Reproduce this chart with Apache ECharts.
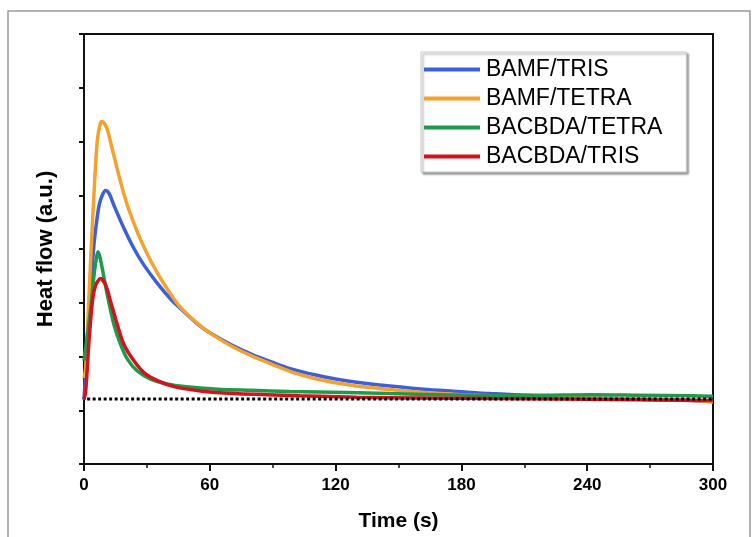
<!doctype html>
<html lang="en">
<head>
<meta charset="UTF-8">
<title>Heat flow</title>
<script src="https://cdn.jsdelivr.net/npm/echarts@6/dist/echarts.min.js"></script>
<style>
    html, body { margin: 0; padding: 0; background: #fff; }
    #chart { width: 753px; height: 537px; }
</style>
</head>
<body>
<div id="chart"></div>
<script>
// 数据
var names = ['BAMF/TRIS', 'BAMF/TETRA', 'BACBDA/TETRA', 'BACBDA/TRIS'];
var colors = ['#3d5fd8', '#f5a12e', '#1f9a4c', '#d3121c'];
var xTicks = [0, 60, 120, 180, 240, 300];

var tBlue = [0, 1.6, 3.2, 4.8, 6.0, 7.2, 8.7, 10.3, 12, 14.3, 19.1, 23.8, 28.6, 35, 41.3, 45, 50, 55, 60, 70, 80, 90, 98, 110, 120, 130, 146, 162, 178, 194, 217, 240, 270, 290, 300];
var yBlue = [1.2, 2.2, 3.3, 4.1, 4.5, 4.81, 5.0, 5.09, 5.03, 4.81, 4.38, 4.01, 3.70, 3.36, 3.07, 2.93, 2.75, 2.58, 2.44, 2.22, 2.04, 1.89, 1.78, 1.66, 1.58, 1.52, 1.45, 1.39, 1.35, 1.31, 1.27, 1.23, 1.20, 1.18, 1.16];

var tOrange = [0, 0.8, 2, 3.2, 4.8, 6.4, 7.9, 8.7, 9.8, 11.1, 14.3, 17.5, 20.7, 25.4, 30, 35, 40, 45, 50, 55, 60, 70, 80, 90, 100, 110, 120, 130, 145, 162, 180, 194, 217, 240, 270, 290, 300];
var yOrange = [1.6, 1.79, 2.8, 3.83, 5.06, 6.04, 6.35, 6.37, 6.33, 6.23, 5.73, 5.24, 4.81, 4.32, 3.92, 3.55, 3.24, 2.96, 2.76, 2.59, 2.44, 2.20, 2.01, 1.85, 1.70, 1.59, 1.51, 1.45, 1.39, 1.33, 1.29, 1.27, 1.25, 1.23, 1.21, 1.18, 1.16];

var tGreen = [0, 1.6, 3.2, 4.8, 6.0, 6.7, 7.6, 8.7, 11.1, 14.3, 17.5, 20.7, 25.4, 31.8, 39.7, 47.7, 63.6, 79.5, 98, 125, 146, 170, 194, 220, 242, 265, 289, 300];
var yGreen = [1.92, 2.4, 2.9, 3.52, 3.85, 3.95, 3.85, 3.64, 3.15, 2.59, 2.22, 1.95, 1.73, 1.58, 1.49, 1.44, 1.39, 1.37, 1.35, 1.33, 1.31, 1.29, 1.27, 1.28, 1.29, 1.28, 1.27, 1.26];

var tRed = [0, 0.8, 2.4, 4, 5.6, 7.9, 10.3, 12.7, 15.9, 19.1, 23.8, 28.6, 35, 42.9, 55.6, 71.5, 87.4, 103, 130, 160, 194, 230, 274, 300];
var yRed = [1.2, 1.35, 2.29, 3.02, 3.33, 3.45, 3.33, 3.02, 2.59, 2.22, 1.92, 1.70, 1.55, 1.44, 1.36, 1.31, 1.29, 1.27, 1.24, 1.23, 1.22, 1.21, 1.19, 1.18];

var baseX = [1.5, 300];
var baseY = [1.21, 1.21];

function pairs(xs, ys) {
    var out = [];
    for (var i = 0; i < xs.length; i++) out.push([xs[i], ys[i]]);
    return out;
}

var curves = [pairs(tBlue, yBlue), pairs(tOrange, yOrange), pairs(tGreen, yGreen), pairs(tRed, yRed)];

var series = curves.map(function (d, i) {
    return {
        name: names[i],
        type: 'line',
        data: d,
        showSymbol: false,
        smooth: 0.3,
        lineStyle: { color: colors[i], width: 3.5 },
        itemStyle: { color: colors[i] },
        z: 2 + i
    };
});
// 基线（虚线）
series.push({
    name: 'baseline',
    type: 'line',
    data: pairs(baseX, baseY),
    showSymbol: false,
    lineStyle: { color: '#000', width: 3, type: [3, 2.5] },
    z: 10
});

var chart = echarts.init(document.getElementById('chart'));
chart.setOption({
    backgroundColor: '#fff',
    animation: false,
    graphic: [{
        type: 'rect',
        shape: { x: 8, y: 11, width: 742, height: 540 },
        style: { fill: 'none', stroke: '#9a9a9a', lineWidth: 1.5 },
        silent: true
    }],
    grid: {
        left: 84, right: 40, top: 34, bottom: 70,
        show: true, borderColor: '#111', borderWidth: 2, backgroundColor: 'transparent'
    },
    legend: {
        data: names,
        orient: 'vertical',
        left: 421, top: 52,
        icon: 'rect',
        itemWidth: 56, itemHeight: 4,
        itemGap: 6,
        padding: [6, 24, 4, 3],
        backgroundColor: '#fff',
        borderColor: '#c8c8c8', borderWidth: 1,
        shadowColor: 'rgba(0,0,0,0.4)', shadowBlur: 2, shadowOffsetX: 2, shadowOffsetY: 2,
        textStyle: { fontFamily: 'Liberation Sans, Arial, sans-serif', fontSize: 23, color: '#000', padding: [0, 0, 0, 1] }
    },
    xAxis: {
        type: 'value',
        min: 0, max: 300, interval: 60,
        name: 'Time (s)',
        nameLocation: 'middle',
        nameGap: 47,
        nameTextStyle: { fontFamily: 'Liberation Sans, Arial, sans-serif', fontSize: 21, fontWeight: 'bold', color: '#000' },
        axisLine: { lineStyle: { color: '#111', width: 2 } },
        axisTick: { length: 7, lineStyle: { color: '#111', width: 2 } },
        minorTick: { show: true, splitNumber: 2, length: 4, lineStyle: { color: '#111', width: 1.5 } },
        splitLine: { show: false },
        axisLabel: {
            margin: 13,
            fontFamily: 'Liberation Sans, Arial, sans-serif', fontSize: 17, fontWeight: 'bold', color: '#000',
            formatter: function (v) { return xTicks.indexOf(v) >= 0 ? String(v) : ''; }
        }
    },
    yAxis: {
        type: 'value',
        min: 0, max: 8, interval: 1,
        name: 'Heat flow (a.u.)',
        nameLocation: 'middle',
        nameGap: 27,
        nameTextStyle: { fontFamily: 'Liberation Sans, Arial, sans-serif', fontSize: 22, fontWeight: 'bold', color: '#000' },
        axisLine: { lineStyle: { color: '#111', width: 2 } },
        axisTick: { length: 5, lineStyle: { color: '#111', width: 2 } },
        splitLine: { show: false },
        axisLabel: { show: false }
    },
    series: series
});
</script>
</body>
</html>
